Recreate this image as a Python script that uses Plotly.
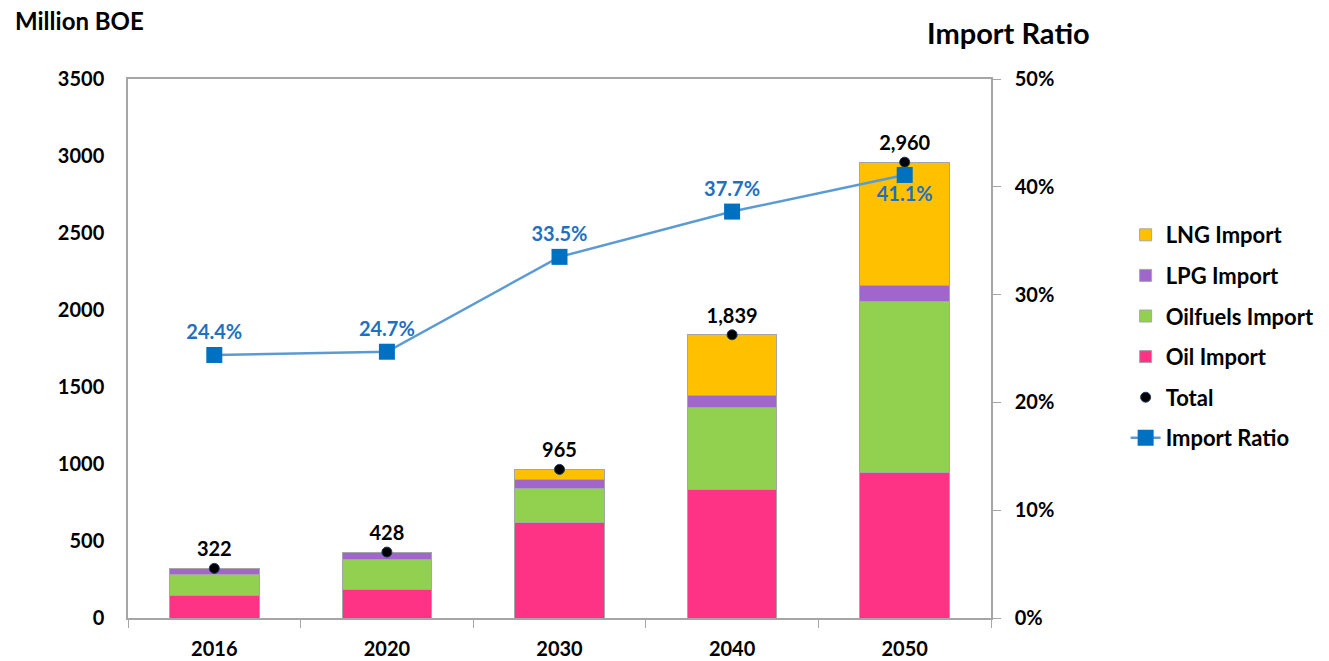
import plotly.graph_objects as go

# values
years = ["2016", "2020", "2030", "2040", "2050"]
oil_import = [145, 186, 623, 836, 946]
oilfuels_import = [136, 195, 221, 528, 1106]
lpg_import = [41, 47, 57, 78, 107]
lng_import = [0, 0, 64, 397, 801]
total = [322, 428, 965, 1839, 2960]
import_ratio = [0.244, 0.247, 0.335, 0.377, 0.411]
ratio_labels = ["24.4%", "24.7%", "33.5%", "37.7%", "41.1%"]

FONT = "Lato"
GREY = "#A6A6A6"

fig = go.Figure()

bar_series = [
    ("Oil Import", oil_import, "#FF3385", 4),
    ("Oilfuels Import", oilfuels_import, "#92D050", 3),
    ("LPG Import", lpg_import, "#A066CC", 2),
    ("LNG Import", lng_import, "#FFC000", 1),
]
for name, vals, col, rank in bar_series:
    fig.add_trace(go.Bar(
        x=years, y=vals, name=name, legendrank=rank, legendgroup=name,
        marker=dict(color=col, line=dict(color=GREY, width=1)),
        width=0.52,
    ))

fig.add_trace(go.Scatter(
    x=years, y=total, name="Total", mode="markers+text", legendrank=5,
    legendgroup="Total",
    marker=dict(color="black", size=10, line=dict(color="#1F3864", width=1)),
    text=[f"{v:,}" for v in total], textposition="top center",
    textfont=dict(color="black", size=20, family=FONT, weight="bold"),
))

fig.add_trace(go.Scatter(
    x=years, y=import_ratio, name="Import Ratio", yaxis="y2",
    mode="lines+markers+text", legendrank=6, legendgroup="Import Ratio",
    line=dict(color="#5B9BD5", width=2.5),
    marker=dict(color="#0070C0", symbol="square", size=16),
    text=ratio_labels,
    textposition=["top center"] * 4 + ["bottom center"],
    textfont=dict(color="#1F70C1", size=20, family=FONT, weight="bold"),
))

# the page adds an 8px body margin, so the figure is drawn 8px smaller
fig.update_layout(
    width=1321, height=653,
    barmode="stack",
    plot_bgcolor="white", paper_bgcolor="white",
    margin=dict(l=120, r=338, t=71, b=43, autoexpand=False),
    font=dict(family=FONT, size=20, color="black", weight="bold"),
    xaxis=dict(
        showline=True, linecolor=GREY, linewidth=1.5, mirror=True,
        ticks="outside", tickson="boundaries", ticklen=8, tickcolor=GREY,
        tickfont=dict(size=20, weight="bold"), ticklabelstandoff=12,
        automargin=False,
    ),
    yaxis=dict(
        range=[0, 3500], dtick=500, showgrid=False, zeroline=False,
        showline=True, linecolor=GREY, linewidth=1.5, automargin=False,
        ticks="", tickfont=dict(size=20, weight="bold"), ticklabelstandoff=18,
    ),
    yaxis2=dict(
        overlaying="y", side="right", range=[0, 0.5], dtick=0.1,
        tickformat=".0%", showgrid=False, zeroline=False,
        showline=True, linecolor=GREY, linewidth=1.5, automargin=False,
        ticks="outside", ticklen=8, tickcolor=GREY,
        tickfont=dict(size=20, weight="bold"), ticklabelstandoff=10,
    ),
    legend=dict(
        x=1.156, y=0.7495, xanchor="left", yanchor="top",
        font=dict(size=22, weight="bold"), tracegroupgap=9,
        bgcolor="rgba(0,0,0,0)",
    ),
    showlegend=True,
    annotations=[
        dict(text="Million BOE", xref="paper", yref="paper", x=-0.133,
             y=1.108, xanchor="left", yanchor="middle", showarrow=False,
             font=dict(size=24, weight="bold")),
        dict(text="Import Ratio", xref="paper", yref="paper", x=1.117,
             y=1.087, xanchor="right", yanchor="middle", showarrow=False,
             font=dict(size=29, weight="bold")),
    ],
)

fig.write_html("out.html")
